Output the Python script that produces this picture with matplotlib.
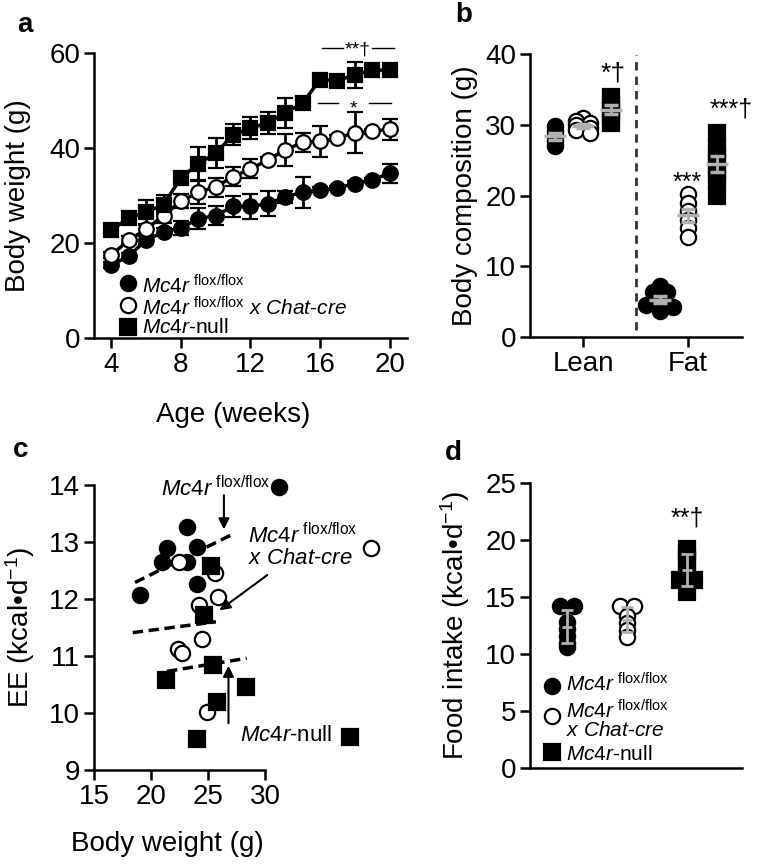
import numpy as np
import matplotlib
matplotlib.use('Agg')
import matplotlib.pyplot as plt

plt.rcParams['font.family'] = ['Liberation Sans', 'DejaVu Sans']
plt.rcParams['mathtext.fontset'] = 'custom'
plt.rcParams['mathtext.rm'] = 'Liberation Sans'
plt.rcParams['mathtext.it'] = 'Liberation Sans:italic'
plt.rcParams['mathtext.bf'] = 'Liberation Sans:bold'
plt.rcParams['axes.linewidth'] = 1.8
plt.rcParams['xtick.major.width'] = 1.8
plt.rcParams['ytick.major.width'] = 1.8
plt.rcParams['xtick.major.size'] = 7
plt.rcParams['ytick.major.size'] = 7
plt.rcParams['xtick.labelsize'] = 20
plt.rcParams['ytick.labelsize'] = 20
plt.rcParams['axes.labelsize'] = 20

# ---- panel a: body weight over age
weeks = np.arange(4, 21)
bw_flox = [15.4, 17.2, 20.7, 22.3, 23.2, 25.1, 25.8, 27.7, 27.7, 28.3, 29.7, 30.7, 31.2, 31.6, 32.5, 33.3, 34.7]
bw_flox_err = [0.6, 0.8, 0.8, 0.8, 1.5, 2.2, 2.0, 2.3, 2.6, 2.6, 1.2, 3.3, 0.5, 0.5, 0.5, 0.5, 2.0]
bw_chat = [17.5, 20.6, 22.9, 25.8, 28.8, 30.7, 31.8, 34.0, 35.6, 37.5, 39.6, 41.2, 41.4, 42.1, 43.2, 43.5, 44.0]
bw_chat_err = [0.6, 0.8, 1.0, 1.5, 1.5, 2.5, 2.0, 2.0, 2.0, 0.6, 3.4, 2.0, 3.2, 0.6, 4.3, 0.6, 2.2]
bw_null = [22.7, 25.3, 26.5, 28.1, 33.7, 36.7, 38.9, 42.8, 44.2, 45.3, 47.4, 49.5, 54.4, 54.2, 55.4, 56.4, 56.4]
bw_null_err = [0.6, 1.3, 2.5, 2.0, 0.8, 3.6, 3.2, 2.2, 2.3, 2.3, 3.2, 1.3, 0.8, 1.0, 2.7, 0.8, 1.2]

# ---- panel b: body composition (g)
lean_flox = [29.8, 29.1, 28.4, 27.7, 27.0]
lean_chat = [31.0, 30.5, 30.2, 29.9, 29.5, 29.2, 28.8]
lean_null = [33.9, 33.0, 32.1, 31.2, 30.3]
fat_flox = [7.2, 6.4, 6.3, 4.5, 4.4, 4.3, 3.7]
fat_chat = [20.2, 19.0, 17.8, 16.6, 15.4, 14.2]
fat_null = [28.9, 26.8, 25.6, 24.4, 23.2, 22.0, 19.9]

# ---- panel c: energy expenditure vs body weight
ee_flox_bw = [31.2, 23.2, 21.45, 24.0, 20.98, 23.12, 24.06, 19.02]
ee_flox = [13.97, 13.26, 12.89, 12.91, 12.65, 12.65, 12.26, 12.07]
ee_chat_bw = [39.3, 22.45, 25.6, 25.9, 24.2, 24.44, 22.33, 22.68, 24.94]
ee_chat = [12.9, 12.65, 12.45, 12.04, 11.89, 11.29, 11.12, 11.06, 10.02]
ee_null_bw = [25.23, 24.68, 25.47, 21.3, 28.31, 25.76, 24.0, 37.5]
ee_null = [12.58, 11.72, 10.84, 10.57, 10.46, 10.2, 9.54, 9.58]
# fitted lines (x range, y at ends)
fit_x = [[18.6, 27.0], [18.4, 25.7], [21.4, 28.4]]
fit_y = [[12.29, 13.12], [11.41, 11.60], [10.73, 10.96]]

# ---- panel d: food intake
fi_flox = [14.2, 14.2, 12.8, 12.2, 11.6, 11.0, 10.6]
fi_chat = [14.2, 14.2, 13.3, 12.7, 12.1, 11.5]
fi_null = [19.2, 18.7, 18.2, 17.0, 16.5, 16.5, 15.4]

FLOX = r'$\mathit{Mc4r}^{\ \mathrm{flox/flox}}$'
CHAT = r'$\mathit{Mc4r}^{\ \mathrm{flox/flox}}\ \mathit{x\ Chat}$-$\mathit{cre}$'
XCHAT = r'$\mathit{x\ Chat}$-$\mathit{cre}$'
NULL = r'$\mathit{Mc4r}$-null'

GRAY = '#b0b0b0'
MS = 11
LEG_FS = 15
styles = [dict(marker='o', mfc='black', mec='black'),
          dict(marker='o', mfc='white', mec='black'),
          dict(marker='s', mfc='black', mec='black')]


def scatter_cols(ax, xc, vals, ms=MS, bin_frac=0.3, sep=0.9):
    # prism-like column scatter: points in the same value bin sit side by side
    diam = ms * ax.figure.dpi / 72.0
    tr = ax.transData
    py = np.array([tr.transform((xc, v))[1] for v in vals])
    px0 = tr.transform((xc, 0))[0]
    bins = np.floor(py / (bin_frac * diam)).astype(int)
    out = np.zeros(len(vals))
    for b in np.unique(bins):
        idx = np.where(bins == b)[0]
        n = len(idx)
        for j, i in enumerate(idx):
            dx = (j - (n - 1) / 2) * sep * diam
            out[i] = tr.inverted().transform((px0 + dx, py[i]))[0]
    return out


def clean(ax):
    ax.spines['top'].set_visible(False)
    ax.spines['right'].set_visible(False)
    ax.tick_params(pad=3)


W, H = 764, 867


def marker_at(fig, st, mx, my):
    fig.add_artist(plt.Line2D([mx / W], [1 - my / H], transform=fig.transFigure, ls='none',
                              ms=MS, mew=1.6, **st))


def text_at(fig, tx, ty, s, ls=1.0):
    # ty is the baseline of the last line
    fig.text(tx / W, 1 - ty / H, s, fontsize=LEG_FS, va='baseline', ha='left', linespacing=ls)


fig = plt.figure(figsize=(7.64, 8.67), dpi=100)

# ================= a
ax = fig.add_axes([0.1230, 0.6101, 0.4097, 0.3287])
clean(ax)
for m, e, st in zip([bw_flox, bw_chat, bw_null], [bw_flox_err, bw_chat_err, bw_null_err], styles):
    ax.errorbar(weeks, m, yerr=e, color='black', lw=2.5, ms=10.5, mew=1.6,
                capsize=6, capthick=2, elinewidth=2, **st)
ax.set_xlim(3, 21)
ax.set_ylim(0, 60)
ax.set_xticks([4, 8, 12, 16, 20])
ax.set_yticks([0, 20, 40, 60])
ax.set_xlabel('Age (weeks)')
ax.set_ylabel('Body weight (g)')
ax.yaxis.set_label_coords(-0.20, 0.5)
ax.xaxis.set_label_coords(0.444, -0.225)
# significance bars
ax.plot([16.1, 17.3], [61.0, 61.0], color='black', lw=1, clip_on=False)
ax.plot([19.0, 20.25], [61.0, 61.0], color='black', lw=1, clip_on=False)
ax.text(18.15, 59.6, '**†', fontsize=14, ha='center', va='baseline')
ax.plot([15.9, 17.05], [49.5, 49.5], color='black', lw=1)
ax.plot([18.8, 20.07], [49.5, 49.5], color='black', lw=1)
ax.text(17.95, 47.2, '*', fontsize=14, ha='center', va='baseline')
# legend
for st, my in zip(styles, [283, 305, 327]):
    marker_at(fig, st, 128, my)
text_at(fig, 142, 333, FLOX + '\n' + CHAT + '\n' + NULL, ls=0.93)

# ================= b
ax = fig.add_axes([0.6937, 0.6113, 0.2775, 0.3264])
clean(ax)
ax.set_xlim(-0.505, 1.514)
ax.set_ylim(0, 40)
ax.set_yticks([0, 10, 20, 30, 40])
ax.set_xticks([0, 1])
ax.set_xticklabels(['Lean', 'Fat'])
ax.set_ylabel('Body composition (g)')
ax.yaxis.set_label_coords(-0.245, 0.5)
ax.axvline(0.505, ymin=0.025, ymax=0.995, color='#333333', lw=2, ls=(0, (3, 2.2)))
centers = [-0.27, 0.0, 0.27, 0.73, 1.0, 1.28]
groups = [lean_flox, lean_chat, lean_null, fat_flox, fat_chat, fat_null]
for xc, vals, st in zip(centers, groups, styles * 2):
    xs = scatter_cols(ax, xc, vals)
    ax.plot(xs, vals, ls='none', ms=MS, mew=1.6, zorder=3, **st)
    v = np.array(vals)
    ax.errorbar([xc], [v.mean()], yerr=[v.std(ddof=1) / np.sqrt(len(v))], color=GRAY,
                marker='_', ms=16, mew=2.5, capsize=5, capthick=2, elinewidth=2, zorder=4)
ax.text(0.29, 36.2, '*†', fontsize=19, ha='center', va='baseline')
ax.text(0.99, 20.8, '***', fontsize=18, ha='center', va='baseline')
ax.text(1.41, 31.2, '***†', fontsize=18, ha='center', va='baseline', clip_on=False)

# ================= c
ax = fig.add_axes([0.1230, 0.1119, 0.2238, 0.3287])
clean(ax)
for bx, ee, st in zip([ee_flox_bw, ee_chat_bw, ee_null_bw], [ee_flox, ee_chat, ee_null], styles):
    ax.plot(bx, ee, ls='none', ms=MS, mew=1.6, clip_on=False, zorder=3, **st)
for fx, fy in zip(fit_x, fit_y):
    ax.plot(fx, fy, color='black', lw=2.5, ls=(0, (3, 1.6)), zorder=2)
ax.set_xlim(15, 30)
ax.set_ylim(9, 14)
ax.set_xticks([15, 20, 25, 30])
ax.set_yticks([9, 10, 11, 12, 13, 14])
ax.set_xlabel('Body weight (g)')
ax.set_ylabel('EE (kcal•d$^{-1}$)')
ax.yaxis.set_label_coords(-0.333, 0.5)
ax.xaxis.set_label_coords(0.43, -0.215)
arrow = dict(arrowstyle='-|>', color='black', lw=1.5, mutation_scale=16, shrinkA=0, shrinkB=0)
ax.text(20.9, 13.93, FLOX, fontsize=16, ha='left', va='center')
ax.annotate('', xy=(26.4, 13.22), xytext=(26.4, 13.82), arrowprops=arrow)
ax.text(28.5, 12.93, FLOX + '\n' + XCHAT, fontsize=16, ha='left', va='center', linespacing=1.0)
ax.annotate('', xy=(26.0, 11.8), xytext=(30.2, 12.42), arrowprops=arrow, annotation_clip=False)
ax.text(27.8, 9.61, NULL, fontsize=16, ha='left', va='center')
ax.annotate('', xy=(26.8, 10.83), xytext=(26.8, 9.82), arrowprops=arrow)

# ================= d
ax = fig.add_axes([0.6937, 0.1142, 0.2775, 0.3287])
clean(ax)
ax.set_xlim(-0.617, 2.917)
ax.set_ylim(0, 25)
ax.set_yticks([0, 5, 10, 15, 20, 25])
ax.set_xticks([])
ax.set_ylabel('Food intake (kcal•d$^{-1}$)')
ax.yaxis.set_label_coords(-0.274, 0.5)
for xc, vals, st in zip([0, 1, 2], [fi_flox, fi_chat, fi_null], styles):
    xs = scatter_cols(ax, xc, vals)
    ax.plot(xs, vals, ls='none', ms=MS, mew=1.6, zorder=3, **st)
    v = np.array(vals)
    ax.errorbar([xc], [v.mean()], yerr=[v.std(ddof=1)], color=GRAY,
                marker='_', ms=7, mew=2, capsize=4, capthick=2, elinewidth=2, zorder=4)
ax.text(2.0, 21.3, '**†', fontsize=18, ha='center', va='baseline')
# legend
for st, my in zip(styles, [686, 716, 752]):
    marker_at(fig, st, 552, my)
text_at(fig, 566, 691, FLOX)
text_at(fig, 566, 736, FLOX + '\n' + XCHAT, ls=0.9)
text_at(fig, 566, 760, NULL)

# panel letters
for x, y, s in [(17, 32, 'a'), (455, 22, 'b'), (13, 457, 'c'), (445, 460, 'd')]:
    fig.text(x / 764, 1 - y / 867, s, fontsize=20, fontweight='bold', va='baseline')

fig.savefig('out.png', dpi=100)
